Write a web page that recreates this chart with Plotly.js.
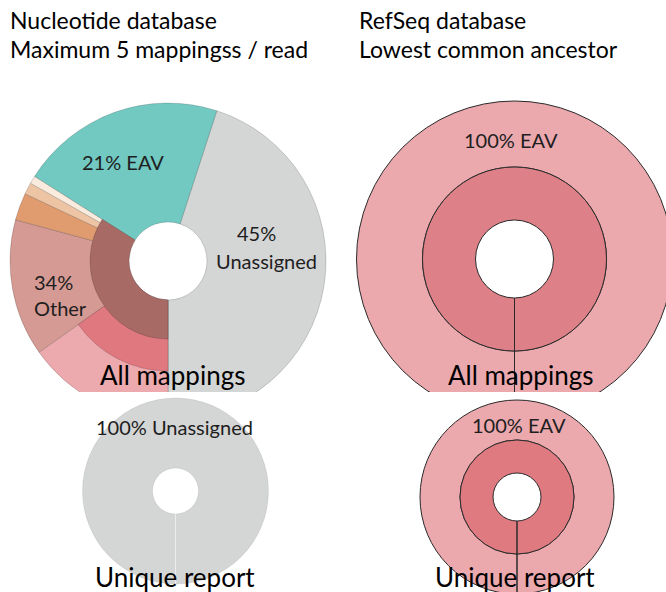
<!DOCTYPE html>
<html><head><meta charset="utf-8">
<script src="https://cdn.plot.ly/plotly-3.0.1.min.js"></script>
<style>
html,body{margin:0;padding:0;background:#fff;}
#wrap{position:relative;width:666px;height:592px;overflow:hidden;background:#fff;}
#topClip{position:absolute;left:0;top:0;width:666px;height:392px;overflow:hidden;}
#bottomClip{position:absolute;left:0;top:392px;width:666px;height:200px;overflow:hidden;}
</style></head><body>
<div id="wrap"><div id="topClip"><div id="top"></div></div><div id="bottomClip"><div id="bottom"></div></div></div>
<script>
// ---------------- DATA ----------------
// Nucleotide database, all mappings: level 1 (percent of reads)
const nucLevel1Labels = ['Unassigned', 'Other', 'EAV'];
const nucLevel1Values = [45, 34, 21];
// children of "Other" (clockwise from 6 o'clock)
const nucOtherLabels = ['Other 1', 'Other 2', 'Other 3', 'Other 4', 'Other 5'];
const nucOtherValues = [15.2, 14.0, 2.8, 1.2, 0.8];
// Nucleotide database, unique report
const nucUniqueLabels = ['Unassigned'];
const nucUniqueValues = [100];
// RefSeq database (lowest common ancestor), two levels each
const refAllLabels = ['EAV'];
const refAllValues = [100];
const refUniqueLabels = ['EAV'];
const refUniqueValues = [100];

// ---------------- STYLE ----------------
const FONT = 'Lato, "Open Sans", sans-serif';
const C = {
  gray: '#d4d5d5', teal: '#72c9c2', brown: '#a86a64', dusty: '#d59a93',
  orange: '#e09b6e', peach: '#edc5a5', cream: '#f9ebdd', red: '#e07880', pink: '#ecaaae',
  refOuter: '#eba9ae', refInner: '#dd8087', refInner2: '#df7a81', none: 'rgba(0,0,0,0)'
};
const nucOtherColors = [C.pink, C.dusty, C.orange, C.peach, C.cream];

function dom(cx, cy, r, W, H) {
  return {x: [(cx - r) / W, (cx + r) / W], y: [(H - (cy + r)) / H, (H - (cy - r)) / H]};
}
function ring(labels, values, colors, lineColors, lineWidths, domain, hole, rotation) {
  return {type: 'pie', labels, values, sort: false, direction: 'clockwise', rotation,
    hole, domain, textinfo: 'none', hoverinfo: 'skip', showlegend: false,
    marker: {colors, line: {color: lineColors, width: lineWidths}}};
}
function ann(text, px, py, W, H, size, xanchor, align, color) {
  return {text, x: px / W, y: 1 - py / H, xref: 'paper', yref: 'paper',
    xanchor: xanchor || 'center', yanchor: 'middle', showarrow: false, align: align || 'center',
    font: {family: FONT, size, color: color || '#1e1e1e'}};
}

// ---------------- TOP FIGURE ----------------
const TW = 700, TH = 440;
const edge = 'rgba(0,0,0,0.16)';
const uIdx = 0, eIdx = 2;
const outerLabels = [nucLevel1Labels[uIdx]].concat(nucOtherLabels, [nucLevel1Labels[eIdx]]);
const outerValues = [nucLevel1Values[uIdx]].concat(nucOtherValues, [nucLevel1Values[eIdx]]);
const outerColors = [C.gray].concat(nucOtherColors, [C.teal]);
const n = outerLabels.length;
const tlOuter = ring(outerLabels, outerValues, outerColors, Array(n).fill(edge), Array(n).fill(1),
  dom(168, 261, 158, TW, TH), 39 / 158, 18);
// middle ring: only the first child of "Other" has an intermediate level
const midColors = outerLabels.map((l, i) => i === 1 ? C.red : C.none);
const midWidths = outerLabels.map((l, i) => i === 1 ? 1 : 0);
const tlMid = ring(outerLabels, outerValues, midColors, Array(n).fill(edge), midWidths,
  dom(168, 261, 110, TW, TH), 39 / 110, 18);
// inner ring
const innerColors = nucLevel1Labels.map(l => l === 'Other' ? C.brown : C.none);
const innerWidths = nucLevel1Labels.map(l => l === 'Other' ? 1 : 0);
const tlInner = ring(nucLevel1Labels, nucLevel1Values, innerColors, Array(3).fill(edge), innerWidths,
  dom(168, 261, 78, TW, TH), 39 / 78, 18);

// RefSeq all mappings (zero-value companion slice draws the start line)
const refLine = '#2a2a2a';
const trOuter = ring(refAllLabels.concat(['']), refAllValues.concat([0]), [C.refOuter, C.none],
  [refLine, refLine], [1, 1], dom(514.5, 259, 158, TW, TH), 92 / 158, 180);
const trInner = ring(refAllLabels.concat(['']), refAllValues.concat([0]), [C.refInner, C.none],
  [refLine, refLine], [1, 1], dom(514.5, 259, 92, TW, TH), 39 / 92, 180);

const topAnn = [
  ann('Nucleotide database', 8, 20, TW, TH, 23, 'left', 'left', '#000'),
  ann('Maximum 5 mappingss / read', 8, 49, TW, TH, 23, 'left', 'left', '#000'),
  ann('RefSeq database', 357, 20, TW, TH, 23, 'left', 'left', '#000'),
  ann('Lowest common ancestor', 357, 49, TW, TH, 23, 'left', 'left', '#000'),
  ann(nucLevel1Values[2] + '% ' + nucLevel1Labels[2], 123, 162, TW, TH, 20),
  ann(nucLevel1Values[0] + '%', 256, 233, TW, TH, 20),
  ann(nucLevel1Labels[0], 266, 261, TW, TH, 20),
  ann(nucLevel1Values[1] + '%<br>' + nucLevel1Labels[1], 32, 295, TW, TH, 20, 'left', 'left'),
  ann('All mappings', 172, 375, TW, TH, 26, 'center', 'center', '#000'),
  ann(refAllValues[0] + '% ' + refAllLabels[0], 511, 140, TW, TH, 20),
  ann('All mappings', 520, 375, TW, TH, 26, 'center', 'center', '#000')
];

Plotly.newPlot('top', [tlOuter, tlMid, tlInner, trOuter, trInner], {
  width: TW, height: TH, margin: {l: 0, r: 0, t: 0, b: 0},
  paper_bgcolor: '#fff', plot_bgcolor: '#fff', showlegend: false, annotations: topAnn
}, {staticPlot: true, displayModeBar: false});

// ---------------- BOTTOM FIGURE ----------------
const BW = 666, BH = 220;
const blPie = ring(nucUniqueLabels.concat(['']), nucUniqueValues.concat([0]), [C.gray, C.none],
  ['rgba(0,0,0,0.07)', 'rgba(255,255,255,0.35)'], [1, 1], dom(175.5, 99, 93, BW, BH), 23 / 93, 180);
const brOuter = ring(refUniqueLabels.concat(['']), refUniqueValues.concat([0]), [C.refOuter, C.none],
  [refLine, refLine], [1, 1], dom(517, 105, 97, BW, BH), 57 / 97, 180);
const brInner = ring(refUniqueLabels.concat(['']), refUniqueValues.concat([0]), [C.refInner2, C.none],
  [refLine, refLine], [1, 1], dom(517, 105, 57, BW, BH), 24 / 57, 180);

const botAnn = [
  ann(nucUniqueValues[0] + '% ' + nucUniqueLabels[0], 174, 35, BW, BH, 20),
  ann('Unique report', 175, 185, BW, BH, 26, 'center', 'center', '#000'),
  ann(refUniqueValues[0] + '% ' + refUniqueLabels[0], 519, 33, BW, BH, 20),
  ann('Unique report', 515, 185, BW, BH, 26, 'center', 'center', '#000')
];
Plotly.newPlot('bottom', [blPie, brOuter, brInner], {
  width: BW, height: BH, margin: {l: 0, r: 0, t: 0, b: 0},
  paper_bgcolor: '#fff', plot_bgcolor: '#fff', showlegend: false, annotations: botAnn
}, {staticPlot: true, displayModeBar: false});
</script>
</body></html>
